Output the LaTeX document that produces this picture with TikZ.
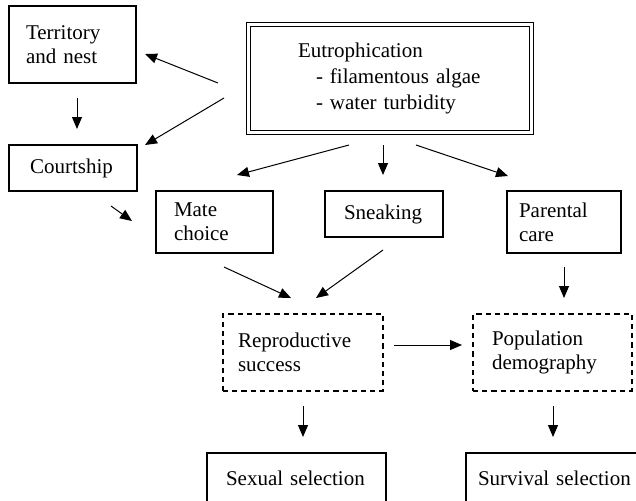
\documentclass[tikz,border=0pt]{standalone}
\usepackage{fontspec}
\setmainfont{Liberation Serif}
\usetikzlibrary{arrows.meta}
\begin{document}
\begin{tikzpicture}[x=0.5pt,y=-0.5pt,
 box/.style={draw, line width=0.6pt, font=\fontsize{10.5}{12}\selectfont, align=left, inner ysep=0pt, anchor=center},
 dbox/.style={box, line width=0.7pt, dash pattern=on 2.6pt off 2pt},
 arr/.style={line width=0.5pt, -{Triangle[length=6pt,width=5pt]}}]
\useasboundingbox (0,0) rectangle (636,500);

\node[box, minimum width=63.5pt, minimum height=38.5pt, text width=46.5pt, inner xsep=8.5pt] (ter) at (72.5,44.5) {Territory\\and nest};
\node[box, minimum width=64pt, minimum height=23pt, text width=43pt, inner xsep=10.5pt] (cou) at (73,168) {Courtship};
\node[box, minimum width=58.5pt, minimum height=31pt, text width=40.5pt, inner xsep=9pt] (mat) at (214.5,222) {Mate\\choice};
\node[box, minimum width=59pt, minimum height=23pt, text width=40pt, inner xsep=9.5pt] (sne) at (384,214) {Sneaking};
\node[box, minimum width=57pt, minimum height=31pt, text width=45pt, inner xsep=6pt] (par) at (564,222) {Parental\\care};
\node[dbox, minimum width=80pt, minimum height=38.5pt, text width=65pt, inner xsep=7.5pt] (rep) at (303,352.5) {Reproductive\\success};
\node[dbox, minimum width=79.5pt, minimum height=38.5pt, text width=60.5pt, inner xsep=9.5pt] (pop) at (552.5,352.5) {Population\\demography};
\node[box, minimum width=89.5pt, minimum height=25pt, text width=70.5pt, inner xsep=9.5pt] (sex) at (296.5,478) {Sexual selection};
\node[box, minimum width=93pt, minimum height=25pt, text width=81pt, inner xsep=6pt] (sur) at (559,478) {Survival selection};
\node[box, line width=0.5pt, double, double distance=1.5pt, minimum width=141.5pt, minimum height=54pt, text width=92pt, inner xsep=24.75pt, font=\fontsize{10.5}{13.2}\selectfont] (eut) at (390,78.5) {Eutrophication\\\hspace*{9pt}- filamentous algae\\\hspace*{9pt}- water turbidity};

\coordinate (a1s) at (218,83);  \coordinate (a1e) at (145,54);
\coordinate (a2s) at (224,98);  \coordinate (a2e) at (145,145);
\coordinate (a3s) at (77,98);   \coordinate (a3e) at (77,129);
\coordinate (a4s) at (111,206); \coordinate (a4e) at (132,221);
\coordinate (a5s) at (349,145); \coordinate (a5e) at (237,175);
\coordinate (a6s) at (383,145); \coordinate (a6e) at (383,175);
\coordinate (a7s) at (416,145); \coordinate (a7e) at (508,176);
\coordinate (a8s) at (224,267); \coordinate (a8e) at (291,298);
\coordinate (a9s) at (383,250); \coordinate (a9e) at (316,298);
\coordinate (a10s) at (564,267); \coordinate (a10e) at (564,298);
\coordinate (a11s) at (394,345); \coordinate (a11e) at (462,345);
\coordinate (a12s) at (303,406); \coordinate (a12e) at (303,437);
\coordinate (a13s) at (553,406); \coordinate (a13e) at (553,437);

\foreach \i in {1,...,13} {\draw[arr] (a\i s) -- (a\i e);}
\end{tikzpicture}
\end{document}
